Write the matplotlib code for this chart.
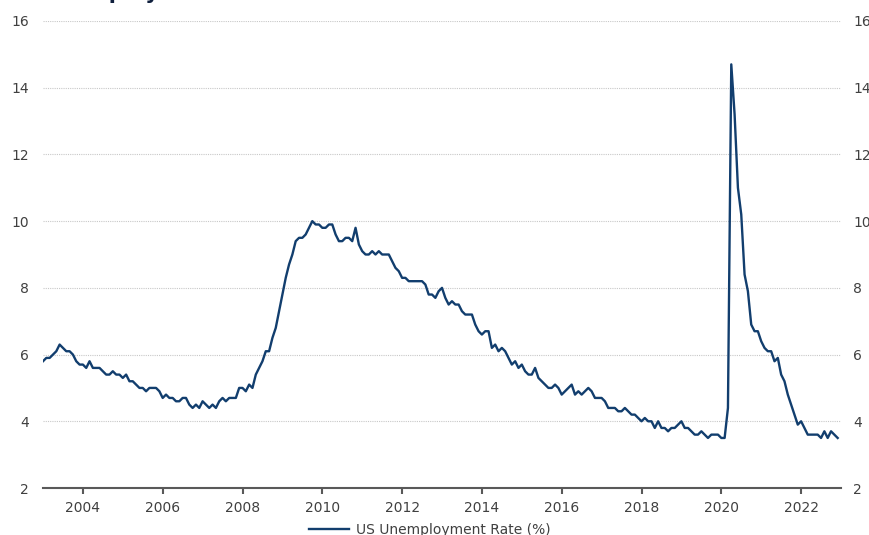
import numpy as np
import matplotlib
matplotlib.use("Agg")
import matplotlib.pyplot as plt

# Monthly US unemployment rate (%), Jan 2003 - Dec 2022
start_year = 2003
rate_2003 = [5.8, 5.9, 5.9, 6.0, 6.1, 6.3, 6.2, 6.1, 6.1, 6.0, 5.8, 5.7]
rate_2004 = [5.7, 5.6, 5.8, 5.6, 5.6, 5.6, 5.5, 5.4, 5.4, 5.5, 5.4, 5.4]
rate_2005 = [5.3, 5.4, 5.2, 5.2, 5.1, 5.0, 5.0, 4.9, 5.0, 5.0, 5.0, 4.9]
rate_2006 = [4.7, 4.8, 4.7, 4.7, 4.6, 4.6, 4.7, 4.7, 4.5, 4.4, 4.5, 4.4]
rate_2007 = [4.6, 4.5, 4.4, 4.5, 4.4, 4.6, 4.7, 4.6, 4.7, 4.7, 4.7, 5.0]
rate_2008 = [5.0, 4.9, 5.1, 5.0, 5.4, 5.6, 5.8, 6.1, 6.1, 6.5, 6.8, 7.3]
rate_2009 = [7.8, 8.3, 8.7, 9.0, 9.4, 9.5, 9.5, 9.6, 9.8, 10.0, 9.9, 9.9]
rate_2010 = [9.8, 9.8, 9.9, 9.9, 9.6, 9.4, 9.4, 9.5, 9.5, 9.4, 9.8, 9.3]
rate_2011 = [9.1, 9.0, 9.0, 9.1, 9.0, 9.1, 9.0, 9.0, 9.0, 8.8, 8.6, 8.5]
rate_2012 = [8.3, 8.3, 8.2, 8.2, 8.2, 8.2, 8.2, 8.1, 7.8, 7.8, 7.7, 7.9]
rate_2013 = [8.0, 7.7, 7.5, 7.6, 7.5, 7.5, 7.3, 7.2, 7.2, 7.2, 6.9, 6.7]
rate_2014 = [6.6, 6.7, 6.7, 6.2, 6.3, 6.1, 6.2, 6.1, 5.9, 5.7, 5.8, 5.6]
rate_2015 = [5.7, 5.5, 5.4, 5.4, 5.6, 5.3, 5.2, 5.1, 5.0, 5.0, 5.1, 5.0]
rate_2016 = [4.8, 4.9, 5.0, 5.1, 4.8, 4.9, 4.8, 4.9, 5.0, 4.9, 4.7, 4.7]
rate_2017 = [4.7, 4.6, 4.4, 4.4, 4.4, 4.3, 4.3, 4.4, 4.3, 4.2, 4.2, 4.1]
rate_2018 = [4.0, 4.1, 4.0, 4.0, 3.8, 4.0, 3.8, 3.8, 3.7, 3.8, 3.8, 3.9]
rate_2019 = [4.0, 3.8, 3.8, 3.7, 3.6, 3.6, 3.7, 3.6, 3.5, 3.6, 3.6, 3.6]
rate_2020 = [3.5, 3.5, 4.4, 14.7, 13.2, 11.0, 10.2, 8.4, 7.9, 6.9, 6.7, 6.7]
rate_2021 = [6.4, 6.2, 6.1, 6.1, 5.8, 5.9, 5.4, 5.2, 4.8, 4.5, 4.2, 3.9]
rate_2022 = [4.0, 3.8, 3.6, 3.6, 3.6, 3.6, 3.5, 3.7, 3.5, 3.7, 3.6, 3.5]

rates = np.array(rate_2003 + rate_2004 + rate_2005 + rate_2006 + rate_2007
                 + rate_2008 + rate_2009 + rate_2010 + rate_2011 + rate_2012
                 + rate_2013 + rate_2014 + rate_2015 + rate_2016 + rate_2017
                 + rate_2018 + rate_2019 + rate_2020 + rate_2021 + rate_2022)
months = start_year + np.arange(len(rates)) / 12.0

year_ticks = [2004, 2006, 2008, 2010, 2012, 2014, 2016, 2018, 2020, 2022]
y_ticks = [2, 4, 6, 8, 10, 12, 14, 16]
series_label = "US Unemployment Rate (%)"
title_text = "Unemployment"

plt.rcParams["font.family"] = ["DejaVu Sans"]
text_color = "#404040"
line_color = "#123E6E"

fig = plt.figure(figsize=(8.69, 5.35), dpi=100)
ax = fig.add_axes([43 / 869, 1 - 488 / 535, (841 - 43) / 869, (488 - 21) / 535])

ax.plot(months, rates, color=line_color, lw=1.7, label=series_label,
        solid_joinstyle="round", zorder=3)

ax.set_xlim(2003, 2023)
ax.set_ylim(2, 16)
ax.set_xticks(year_ticks)
ax.set_xticklabels([str(y) for y in year_ticks])
ax.set_yticks(y_ticks)

for v in y_ticks[1:]:
    ax.axhline(v, color="#C8C8C8", lw=0.8, ls=(0, (1, 1)), zorder=1)

for s in ["top", "right", "left"]:
    ax.spines[s].set_visible(False)
ax.spines["bottom"].set_color("#595959")
ax.spines["bottom"].set_linewidth(1.5)

ax.tick_params(axis="x", direction="out", length=4, width=1.5, color="#595959",
               labelsize=10, labelcolor=text_color, pad=5)
ax.tick_params(axis="y", length=0, labelsize=10, labelcolor=text_color, pad=10)

# Mirrored value axis on the right
ax2 = ax.twinx()
ax2.set_ylim(2, 16)
ax2.set_yticks(y_ticks)
for s in ["top", "right", "left", "bottom"]:
    ax2.spines[s].set_visible(False)
ax2.tick_params(axis="y", length=0, labelsize=10, labelcolor=text_color, pad=9)

fig.text(41 / 869, 1 + 1 / 535, title_text, fontsize=15, fontweight="bold",
         color="#0F1F3D", ha="left", va="baseline")

fig.legend(loc="center", bbox_to_anchor=(430 / 869, 1 - 530 / 535),
           frameon=False, fontsize=10, handlelength=2.9, handletextpad=0.5,
           labelcolor=text_color)

fig.savefig("out.png", dpi=100)
